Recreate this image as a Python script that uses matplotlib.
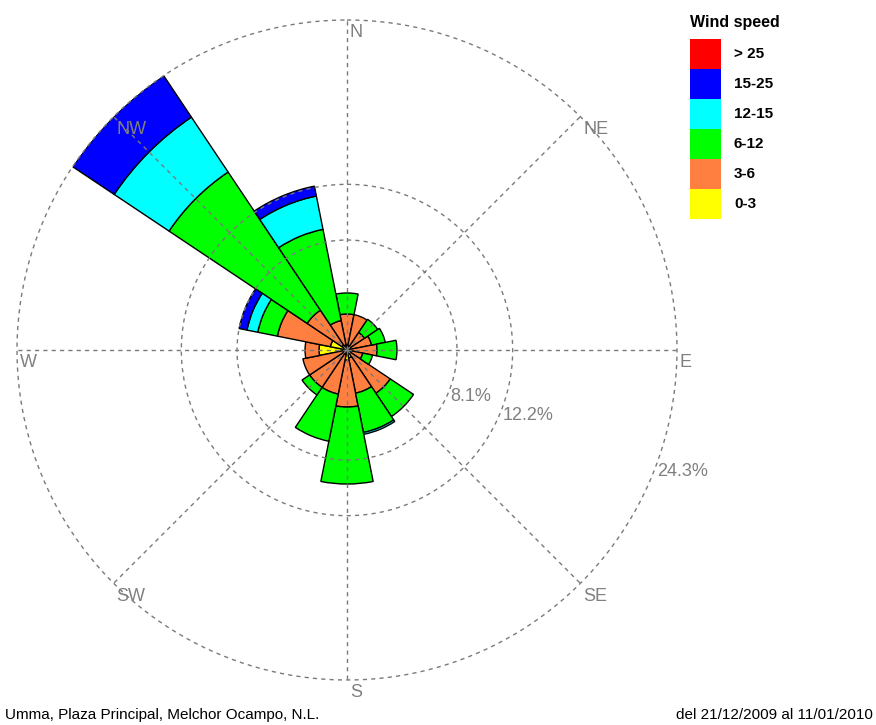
import numpy as np
import matplotlib
import matplotlib.pyplot as plt
from matplotlib.transforms import offset_copy
matplotlib.use('Agg')

plt.rcParams['font.family'] = ['Liberation Sans', 'DejaVu Sans']

# wind directions, clockwise from north
directions = ['N', 'NNE', 'NE', 'ENE', 'E', 'ESE', 'SE', 'SSE',
              'S', 'SSW', 'SW', 'WSW', 'W', 'WNW', 'NW', 'NNW']

# frequency (%) per speed class, per direction
f_0_3 = [0.37, 0.29, 0.22, 0.22, 0.22, 0.22, 0.29, 0.59,
         0.74, 0.29, 0.22, 0.22, 2.06, 1.25, 0.44, 0.37]
f_3_6 = [2.28, 2.36, 1.33, 1.62, 1.99, 0.96, 3.54, 2.65,
         3.46, 3.02, 3.09, 3.09, 1.03, 3.98, 3.09, 1.84]
f_6_12 = [1.55, 0.0, 1.17, 1.03, 1.47, 0.73, 2.06, 2.95,
          5.67, 3.54, 0.67, 0.0, 0.0, 1.47, 12.23, 6.85]
f_12_15 = [0, 0, 0, 0, 0, 0, 0, 0.14,
           0, 0, 0, 0, 0, 0.81, 4.86, 2.50]
f_15_25 = [0, 0, 0, 0, 0, 0, 0, 0,
           0, 0, 0, 0, 0, 0.59, 3.68, 0.74]
f_25 = [0] * 16

classes = ['0-3', '3-6', '6-12', '12-15', '15-25', '> 25']
colors = ['#FFFF00', '#FF7F40', '#00FF00', '#00FFFF', '#0000FF', '#FF0000']
ring_values = [8.1, 12.2, 24.3]
compass = ['N', 'NE', 'E', 'SE', 'S', 'SW', 'W', 'NW']

rmax = ring_values[-1]

fig = plt.figure(figsize=(8.76, 7.25), dpi=100)
ax = fig.add_axes([17 / 876, 45 / 725, 660 / 876, 660 / 725], projection='polar')
ax.set_theta_zero_location('N')
ax.set_theta_direction(-1)
ax.set_ylim(0, rmax)
ax.grid(False)
ax.set_xticks([])
ax.set_yticks([])
ax.spines['polar'].set_visible(False)

theta = np.deg2rad(np.arange(16) * 22.5)
width = np.deg2rad(22.5)

# stacked petals
bottom = np.zeros(16)
series = [f_0_3, f_3_6, f_6_12, f_12_15, f_15_25, f_25]
for vals, col in zip(series, colors):
    vals = np.array(vals, dtype=float)
    mask = vals > 0
    ax.bar(theta[mask], vals[mask], width=width, bottom=bottom[mask],
           color=col, edgecolor='black', linewidth=1.0, zorder=2)
    bottom = bottom + vals

# dashed rings and radial lines on top
dash = (0, (3, 3))
grey = '#7a7a7a'
t = np.linspace(0, 2 * np.pi, 400)
for rv in ring_values:
    ax.plot(t, np.full_like(t, rv), color=grey, lw=1.0,
            linestyle=dash, zorder=3, clip_on=False)
for i in range(8):
    th = np.deg2rad(i * 45)
    ax.plot([th, th], [0, rmax], color=grey, lw=1.0,
            linestyle=dash, zorder=3, clip_on=False)

# compass labels
lab_tr = offset_copy(ax.transData, fig=fig, x=2, y=-3, units='points')
for i, name in enumerate(compass):
    ax.text(np.deg2rad(i * 45), rmax, name, ha='left', va='top',
            fontsize=13, color='#808080', zorder=4, transform=lab_tr)

# ring labels
for rv in ring_values:
    ax.text(np.deg2rad(110), rv, '%.1f%%' % rv, ha='left', va='top',
            fontsize=13, color='#808080', zorder=4)

# legend
fig.text(690 / 876, 1 - 22 / 725, 'Wind speed', ha='left', va='center',
         fontsize=11.5, fontweight='bold')
for k, (lab, col) in enumerate(zip(classes[::-1], colors[::-1])):
    y0 = 1 - (39 + 30 * (k + 1)) / 725
    fig.patches.append(plt.Rectangle((690 / 876, y0), 31 / 876, 30 / 725,
                                     transform=fig.transFigure,
                                     facecolor=col, edgecolor='none'))
    fig.text(734 / 876, y0 + 15 / 725, lab, ha='left', va='center',
             fontsize=11, fontweight='bold')

# footer
fig.text(5 / 876, 1 - 715 / 725, 'Umma, Plaza Principal, Melchor Ocampo, N.L.',
         ha='left', va='center', fontsize=11)
fig.text(873 / 876, 1 - 715 / 725, 'del 21/12/2009 al 11/01/2010',
         ha='right', va='center', fontsize=11)

fig.savefig('out.png', dpi=100)
